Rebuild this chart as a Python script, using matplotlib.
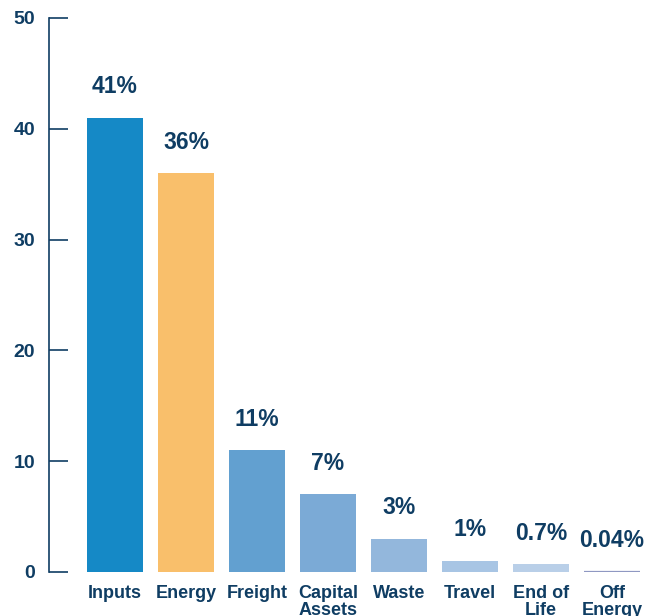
import matplotlib.pyplot as plt

categories = ['Inputs', 'Energy', 'Freight', 'Capital\nAssets', 'Waste', 'Travel', 'End of\nLife', 'Off\nEnergy']
values = [41, 36, 11, 7, 3, 1, 0.7, 0.04]
labels = ['41%', '36%', '11%', '7%', '3%', '1%', '0.7%', '0.04%']
colors = ['#1589c6', '#f9bf6b', '#62a0d0', '#7baad6', '#93b7dc', '#a8c5e4', '#b9cfe8', '#8f98c2']
yticks = [0, 10, 20, 30, 40, 50]

navy = '#0f3d63'
plt.rcParams['font.family'] = ['Liberation Sans', 'DejaVu Sans']

fig = plt.figure(figsize=(6.46, 6.16), dpi=100)
ax = fig.add_axes([49 / 646, 44 / 616, 1 - 49 / 646, 554 / 616])

x = list(range(len(categories)))
# only the tiny last bar gets an outline so it stays visible
edge_w = [0] * (len(values) - 1) + [1.6]
ax.bar(x, values, width=0.79, color=colors, edgecolor=colors, linewidth=edge_w)
for xi, v, lab in zip(x, values, labels):
    ax.annotate(lab, (xi, v), xytext=(0, 14), textcoords='offset points',
                ha='center', va='bottom', fontsize=16.5, fontweight='bold', color=navy)

ax.set_xlim(-0.93, 7.48)
ax.set_ylim(0, 50)
ax.set_yticks(yticks)
ax.set_xticks(x)
ax.set_xticklabels(categories, fontsize=13, fontweight='bold', color=navy, linespacing=1.05)
for s in ['top', 'right', 'bottom']:
    ax.spines[s].set_visible(False)
ax.spines['left'].set_color(navy)
ax.spines['left'].set_linewidth(1.2)
ax.tick_params(axis='y', direction='in', length=14, width=1.2, color=navy,
               labelsize=14, labelcolor=navy, pad=10)
for t in ax.get_yticklabels():
    t.set_fontweight('bold')
ax.tick_params(axis='x', length=0, pad=9)

fig.savefig('out.png', dpi=100)
